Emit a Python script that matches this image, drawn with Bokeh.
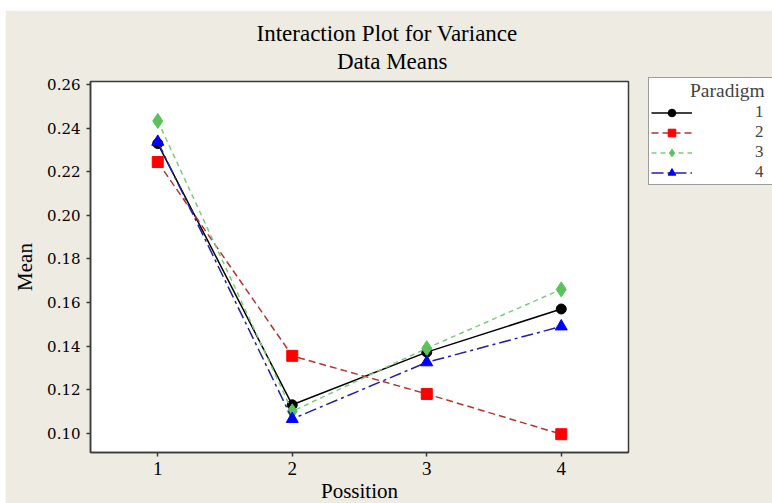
from bokeh.plotting import figure
from bokeh.models import (Legend, LegendItem, Title, Range1d, FixedTicker,
                          CustomJSTickFormatter)
from bokeh.embed import file_html
from bokeh.resources import INLINE

# data
positions = [1, 2, 3, 4]
paradigm_names = ["1", "2", "3", "4"]
mean_p1 = [0.233, 0.113, 0.1372, 0.157]
mean_p2 = [0.2245, 0.1355, 0.118, 0.0995]
mean_p3 = [0.2434, 0.110, 0.139, 0.166]
mean_p4 = [0.2338, 0.1065, 0.1325, 0.149]
y_ticks = [0.10, 0.12, 0.14, 0.16, 0.18, 0.20, 0.22, 0.24, 0.26]
x_ticks = [1, 2, 3, 4]
title_lines = ["Interaction Plot for Variance", "Data Means"]

BG = "#EEEBE2"
FRAME = "#3A3A3A"

p = figure(width=767, height=493, output_backend="svg", toolbar_location=None,
           x_range=Range1d(0.5, 4.5), y_range=Range1d(0.0911, 0.2615),
           min_border_left=85, min_border_right=144, min_border_top=71, min_border_bottom=51,
           frame_width=538, frame_height=371, margin=(10, 0, 0, 5))
p.background_fill_color = "white"
p.border_fill_color = BG
p.outline_line_color = FRAME
p.outline_line_width = 1.5
p.xgrid.visible = False
p.ygrid.visible = False

for ax in (p.xaxis[0], p.yaxis[0]):
    ax.axis_line_color = FRAME
    ax.axis_line_width = 1.5
    ax.major_tick_line_color = FRAME
    ax.major_tick_line_width = 1.5
    ax.major_tick_in = 0
    ax.major_tick_out = 4
    ax.minor_tick_line_color = None
    ax.major_label_text_color = "black"
    ax.axis_label_text_font = "Liberation Serif"
    ax.axis_label_text_font_size = "21px"
    ax.axis_label_text_font_style = "normal"
    ax.axis_label_text_color = "black"

p.yaxis.major_label_text_font = "DejaVu Serif"
p.yaxis.major_label_text_font_size = "15px"
p.xaxis.major_label_text_font = "Liberation Serif"
p.xaxis.major_label_text_font_size = "19px"

p.xaxis.ticker = FixedTicker(ticks=x_ticks)
p.yaxis.ticker = FixedTicker(ticks=y_ticks)
p.yaxis.formatter = CustomJSTickFormatter(code="return tick.toFixed(2);")
p.xaxis.axis_label = "Possition"
p.yaxis.axis_label = "Mean"
p.xaxis.major_label_standoff = 5
p.yaxis.major_label_standoff = 6
p.xaxis.axis_label_standoff = 1
p.yaxis.axis_label_standoff = 7

title_text = title_lines[0] + "\n" + "\u00a0" * 14 + title_lines[1]
t = Title(text=title_text, align="left", offset=166, text_font="Liberation Serif",
          text_font_size="23px", text_font_style="normal", text_color="black",
          text_line_height=1.12, standoff=15)
p.add_layout(t, "above")

series = [
    (mean_p1, "black", "black", "solid", "circle", 10),
    (mean_p2, "#B5342E", "#FF0000", "7 4", "square", 11),
    (mean_p3, "#7CCB7C", "#5BC25B", "5 4", "diamond", 15),
    (mean_p4, "#2020A0", "#0000FF", "12 4 3 4", "triangle", 12),
]
items = []
for name, (vals, lc, mc, dash, marker, size) in zip(paradigm_names, series):
    l = p.line(positions, vals, line_color=lc, line_width=1.5, line_dash=dash)
    s = p.scatter(positions, vals, marker=marker, size=size, fill_color=mc, line_color=mc)
    items.append(LegendItem(label=name, renderers=[l, s]))

legend = Legend(items=items, location=(20, 267), margin=0, padding=2,
                title="\u00a0" * 8 + "Paradigm", title_text_font="Liberation Serif",
                title_text_font_size="19.5px", title_text_font_style="normal", title_standoff=0,
                label_text_font="Liberation Serif", label_text_font_size="17px",
                glyph_width=41, glyph_height=19, label_height=19, label_standoff=63, spacing=0,
                border_line_color=FRAME, border_line_width=1.5, background_fill_color="white",
                background_fill_alpha=1.0)
p.add_layout(legend, "right")

open("out.html", "w").write(file_html(p, INLINE))
